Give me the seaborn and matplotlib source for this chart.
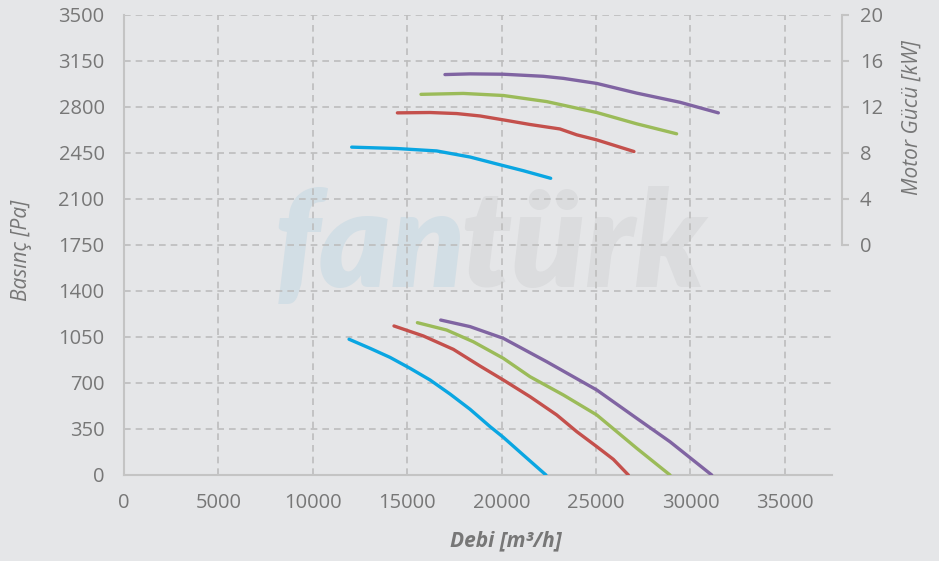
import matplotlib
matplotlib.use("Agg")
import matplotlib.pyplot as plt
import seaborn as sns
import pandas as pd

# Fan curves: airflow [m3/h] vs static pressure [Pa] and motor power [kW]
models = ["A", "B", "C", "D"]
colors = ["#0AA6E2", "#C4504C", "#9BBB59", "#8064A2"]

flow_p_a = [11920, 13030, 14090, 15150, 16210, 17270, 18330, 19390, 20090, 21150, 22350]
pres_a = [1033, 964, 895, 812, 723, 616, 500, 368, 287, 152, 0]
flow_p_b = [14300, 15855, 17445, 18860, 20090, 21505, 22920, 23980, 25040, 25920, 26715]
pres_b = [1134, 1058, 956, 829, 723, 596, 457, 330, 216, 119, 0]
flow_p_c = [15540, 17090, 18500, 20090, 21505, 23270, 25040, 26100, 27160, 28920]
pres_c = [1159, 1103, 1014, 888, 748, 609, 457, 330, 203, 0]
flow_p_d = [16775, 18330, 20090, 22390, 25040, 27160, 28920, 31130]
pres_d = [1179, 1129, 1040, 862, 647, 431, 253, 0]

flow_w_a = [12060, 14440, 16560, 18330, 19740, 21150, 22600]
power_a = [8.51, 8.39, 8.18, 7.65, 7.05, 6.46, 5.8]
flow_w_b = [14480, 16210, 17620, 18860, 20270, 21500, 23090, 23980, 25040, 27010]
power_b = [11.49, 11.52, 11.43, 11.22, 10.83, 10.48, 10.09, 9.58, 9.14, 8.13]
flow_w_c = [15730, 17970, 20090, 22390, 25040, 27150, 29270]
power_c = [13.1, 13.18, 13.0, 12.47, 11.52, 10.54, 9.67]
flow_w_d = [17000, 18330, 20090, 22210, 23270, 25040, 27150, 29450, 31480]
power_d = [14.82, 14.88, 14.85, 14.67, 14.49, 14.05, 13.21, 12.41, 11.49]

pres_ticks = [0, 350, 700, 1050, 1400, 1750, 2100, 2450, 2800, 3150, 3500]
flow_ticks = [0, 5000, 10000, 15000, 20000, 25000, 30000, 35000]
power_ticks = [0, 4, 8, 12, 16, 20]

pressure = pd.concat([
    pd.DataFrame({"flow": f, "value": v, "model": m})
    for f, v, m in zip([flow_p_a, flow_p_b, flow_p_c, flow_p_d],
                       [pres_a, pres_b, pres_c, pres_d], models)
])
power = pd.concat([
    pd.DataFrame({"flow": f, "value": v, "model": m})
    for f, v, m in zip([flow_w_a, flow_w_b, flow_w_c, flow_w_d],
                       [power_a, power_b, power_c, power_d], models)
])

sns.set_theme(style="white")
plt.rcParams["font.family"] = ["Open Sans", "DejaVu Sans"]
txt = "#777777"
bg = "#E5E6E8"
grid_c = "#BDBDBD"

W, H = 939, 561
fig = plt.figure(figsize=(W / 100, H / 100), dpi=100, facecolor=bg)
ax = fig.add_axes([124 / W, 86 / H, 708 / W, 460 / H])
ax.set_facecolor(bg)

# brand watermark behind the grid, sized to its span in pixels
wm = dict(fontweight="heavy", fontstyle="italic", family="Lato",
          va="baseline", zorder=0.1, transform=fig.transFigure)
t1 = ax.text(274 / W, 1 - 287 / H, "fan", ha="left", color="#D2DEE5",
             fontsize=100, **wm)
t2 = ax.text(706 / W, 1 - 287 / H, "türk", ha="right", color="#DBDCDE",
             fontsize=100, **wm)
r = fig.canvas.get_renderer()
w1 = t1.get_window_extent(r).width
w2 = t2.get_window_extent(r).width
fs = 100 * (198 + 240) / (w1 + w2)
t1.set_fontsize(fs)
t2.set_fontsize(fs)

sns.lineplot(data=pressure, x="flow", y="value", hue="model",
             palette=colors, linewidth=2.4, legend=False, ax=ax,
             sort=False, zorder=3)

ax.set_xlim(0, 37500)
ax.set_ylim(0, 3500)
ax.set_xticks(flow_ticks)
ax.set_yticks(pres_ticks)
ax.grid(True, color=grid_c, linestyle=(0, (4, 3)), linewidth=1.2)
ax.set_axisbelow(True)
for s in ["top", "right"]:
    ax.spines[s].set_visible(False)
for s in ["left", "bottom"]:
    ax.spines[s].set_color("#C4C4C4")
    ax.spines[s].set_linewidth(1.5)
ax.tick_params(axis="both", length=0, labelsize=14.5, labelcolor=txt)
ax.tick_params(axis="x", pad=13)
ax.tick_params(axis="y", pad=14)
ax.set_xlabel("Debi [m³/h]", fontsize=15, fontweight="bold",
              fontstyle="italic", color=txt)
ax.xaxis.set_label_coords((506 - 124) / 708, -(541 - 475) / 460)
ax.xaxis.label.set_va("center")
ax.set_ylabel("Basınç [Pa]", fontsize=15, fontstyle="italic", color=txt)
ax.yaxis.set_label_coords(-(124 - 22) / 708, (475 - 250) / 460)
ax.yaxis.label.set_va("center")

ax2 = ax.twinx()
sns.lineplot(data=power, x="flow", y="value", hue="model",
             palette=colors, linewidth=2.4, legend=False, ax=ax2,
             sort=False, zorder=3)
ax2.set_ylim(-20, 20)
ax2.set_yticks(power_ticks)
for s in ["top", "left", "bottom"]:
    ax2.spines[s].set_visible(False)
ax2.spines["right"].set_position(("outward", 7))
ax2.spines["right"].set_bounds(0, 20)
ax2.spines["right"].set_color("#C4C4C4")
ax2.spines["right"].set_linewidth(1.5)
ax2.tick_params(axis="y", length=5, width=1.5, color="#C4C4C4",
                labelsize=14.5, labelcolor=txt, pad=8)
ax2.set_ylabel("")
ax2.set_xlabel("")
fig.text(912 / W, 1 - 118 / H, "Motor Gücü [kW]", rotation=90,
         fontsize=15, fontstyle="italic", color=txt, ha="center", va="center")

# smooth, rounded curve strokes
for a in (ax, ax2):
    for ln in a.get_lines():
        ln.set_solid_capstyle("round")
        ln.set_solid_joinstyle("round")

fig.savefig("out.png", dpi=100, facecolor=bg)
